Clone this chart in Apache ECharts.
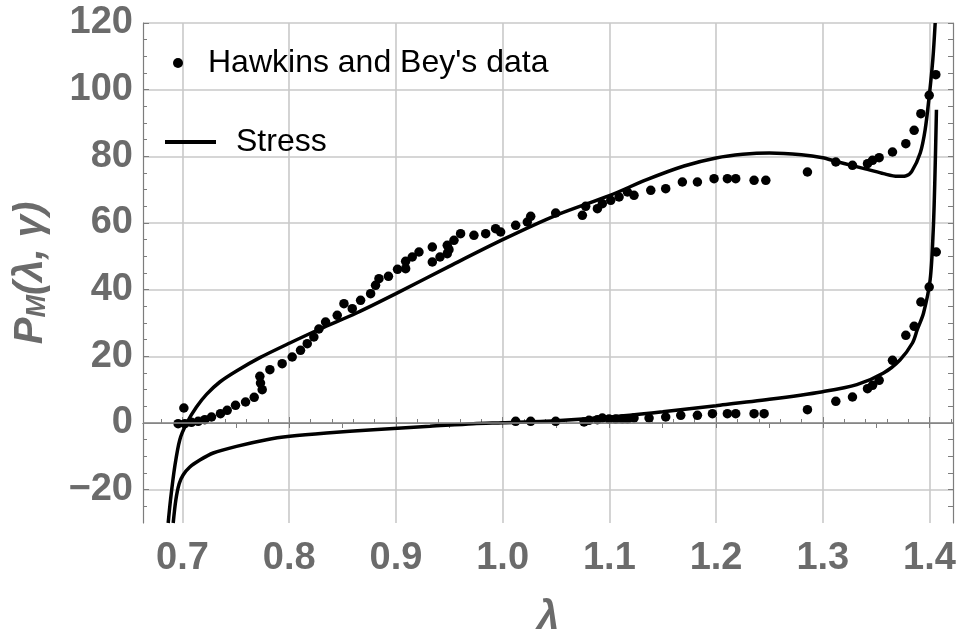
<!DOCTYPE html>
<html>
<head>
<meta charset="utf-8">
<script src="https://cdn.jsdelivr.net/npm/echarts@6/dist/echarts.min.js"></script>
<style>
  html, body { margin: 0; padding: 0; background: #fff; }
  #chart { width: 961px; height: 637px; }
</style>
</head>
<body>
<div id="chart"></div>
<script>
// Hawkins and Bey measurements, loading branch [lambda, P]
const loadingPoints = [
  [0.6959,-0.2],[0.7022,-0.2],[0.7013,4.5],[0.7084,0.2],[0.7147,0.5],[0.7209,1.0],[0.7272,1.8],
  [0.7356,2.8],[0.7419,3.8],[0.7497,5.3],[0.7591,6.3],[0.7672,7.7],[0.7747,10],[0.7731,12],
  [0.7725,14],[0.7819,16],[0.7934,17.8],[0.8028,19.8],[0.8106,21.8],[0.8169,23.8],[0.8231,25.8],
  [0.8278,28.2],[0.8341,30.3],[0.8450,32.3],[0.8513,35.8],[0.8591,34.3],[0.8669,36.8],[0.8763,38.8],
  [0.8809,41.3],[0.8841,43.3],[0.8930,44],[0.9015,46.1],[0.9091,46.3],[0.9091,48.5],[0.9153,49.8],
  [0.9216,51.3],[0.9341,52.8],[0.9341,48.3],[0.9413,49.8],[0.9481,50.8],[0.9497,52],[0.9481,53.3],
  [0.9544,54.8],[0.9606,56.8],[0.9731,56.3],[0.9841,56.8],[0.9934,58.3],[0.9981,57.3],[1.0122,59.3],
  [1.0231,60.3],[1.0263,62],[1.0497,63],[1.0747,62.3],[1.0778,65],[1.0888,64.3],[1.0934,65.8],
  [1.1013,66.8],[1.1091,67.8],[1.1169,69.3],[1.1231,68.3],[1.1388,69.8],[1.1528,70.3],[1.1684,72.3],
  [1.1825,72.3],[1.1981,73.3],[1.2106,73.3],[1.2184,73.3],[1.2356,72.8],[1.2466,72.8],[1.2856,75.3],
  [1.3122,78.3],[1.3278,77.3],[1.3419,77.8],[1.3466,78.8],[1.3528,79.6],[1.3653,81.3],[1.3778,83.8],
  [1.3856,87.8],[1.3919,92.8],[1.3997,98.3],[1.4059,104.5]
];

// Hawkins and Bey measurements, unloading branch [lambda, P]
const unloadingPoints = [
  [1.0122,0.5],[1.0263,0.5],[1.0497,0.5],[1.0763,0.3],[1.0809,0.8],[1.0888,1.0],[1.0934,1.5],
  [1.0997,1.2],[1.1059,1.2],[1.1122,1.2],[1.1169,1.2],[1.1231,1.5],[1.1372,1.5],[1.1528,1.8],
  [1.1669,2.3],[1.1825,2.3],[1.1966,2.8],[1.2106,2.8],[1.2184,2.8],[1.2356,2.8],[1.2450,2.8],
  [1.2856,4],[1.3122,6.5],[1.3278,7.8],[1.3419,10.3],[1.3466,11.3],[1.3528,12.8],[1.3653,18.8],
  [1.3778,26.3],[1.3856,29],[1.3919,36.3],[1.3997,40.8],[1.4063,51.3]
];

// Model stress, loading curve [lambda, P]
const stressLoading = [
  [0.6866,-30],[0.6888,-23],[0.6928,-13],[0.6975,-5],[0.7040,0],[0.7131,4.8],[0.7225,8.6],
  [0.7350,12.3],[0.7506,15.6],[0.7725,19.6],[0.8006,24],[0.8288,28.2],[0.8631,33],[0.9000,38.8],
  [0.9500,47],[1.0000,55],[1.0500,62.3],[1.1000,68.2],[1.1350,73],[1.1700,77.1],[1.2000,79.5],
  [1.2250,80.6],[1.2500,81],[1.2800,80.5],[1.3000,79.6],[1.3122,78.5],[1.3278,77.2],[1.3419,76.1],
  [1.3569,74.8],[1.3700,74],[1.3775,74.1],[1.3834,75.5],[1.3913,81],[1.3959,88],[1.3997,98],
  [1.4031,109],[1.4053,120]
];

// Model stress, unloading curve [lambda, P]
const stressUnloading = [
  [0.6913,-30],[0.6938,-23],[0.6969,-18.2],[0.7006,-15.6],[0.7069,-13.2],[0.7163,-11.1],
  [0.7288,-9],[0.7506,-7],[0.7788,-5],[0.8006,-4],[0.8350,-3],[0.8788,-2],[0.9319,-1],
  [0.9725,-0.2],[1.0000,0.1],[1.0500,0.7],[1.1000,1.8],[1.1500,3.4],[1.2000,5.2],[1.2500,7.1],
  [1.3000,9.4],[1.3319,11.5],[1.3569,15],[1.3725,19],[1.3840,24],[1.3885,28],[1.3944,33],
  [1.4006,43],[1.4035,58],[1.4050,73],[1.4065,94]
];

// Tick labels
const xTickLabels = [0.7, 0.8, 0.9, 1.0, 1.1, 1.2, 1.3, 1.4];
const yTickLabels = [-20, 0, 20, 40, 60, 80, 100, 120];

const X_MIN = 0.663, X_MAX = 1.422, Y_MIN = -30, Y_MAX = 120;

function steps(from, to, step) {
  const out = [];
  for (let v = from; v <= to + 1e-9; v += step) out.push(Math.round(v * 1000) / 1000);
  return out;
}
const xMinorTicks = steps(0.68, 1.42, 0.02);
const xTopTicks = steps(0.7, 1.4, 0.05);
const yMinorTicks = steps(-25, 120, 5);

const FONT = "'Liberation Sans', Arial, sans-serif";
const GRAY = '#6b6b6b';
const FRAME = '#7d7d7d';

const tickLabelStyle = { fontSize: 38, fontWeight: 'bold', color: GRAY, fontFamily: FONT };

function hiddenAxis(extra) {
  return Object.assign({
    type: 'value', gridIndex: 0,
    axisLine: { show: false },
    axisLabel: { show: false },
    splitLine: { show: false }
  }, extra);
}

const curveStyle = {
  type: 'line', xAxisIndex: 0, yAxisIndex: 0,
  symbol: 'none', showSymbol: false, smooth: 0.3, clip: true, z: 3,
  lineStyle: { color: '#000', width: 3.5 }, itemStyle: { color: '#000' }
};

const chart = echarts.init(document.getElementById('chart'), null, { renderer: 'canvas' });

chart.setOption({
  backgroundColor: '#ffffff',
  animation: false,
  grid: { left: 143, right: 8, top: 23, bottom: 114, containLabel: false, outerBoundsMode: 'none' },
  legend: [
    {
      left: 173, top: 47, padding: 0, orient: 'vertical',
      itemWidth: 10, itemHeight: 10,
      data: [{ name: "Hawkins and Bey's data", icon: 'circle' }],
      itemStyle: { opacity: 1 },
      textStyle: { fontSize: 32, color: '#000', fontFamily: FONT, padding: [0, 0, 0, 20] }
    },
    {
      left: 165, top: 126, padding: 0, orient: 'vertical',
      itemWidth: 51, itemHeight: 4,
      data: [{ name: 'Stress', icon: 'rect' }],
      itemStyle: { color: '#000', opacity: 1 },
      textStyle: { fontSize: 32, color: '#000', fontFamily: FONT, padding: [0, 0, 0, 15] }
    }
  ],
  xAxis: [
    {
      type: 'value', min: X_MIN, max: X_MAX, position: 'bottom',
      name: 'λ', nameLocation: 'middle', nameGap: 75,
      nameTextStyle: { fontSize: 40, fontWeight: 'bold', fontStyle: 'italic', color: GRAY, fontFamily: FONT },
      axisLine: { show: true, lineStyle: { color: FRAME, width: 1.2 } },
      axisTick: { show: true, inside: true, length: 6, customValues: xTickLabels, lineStyle: { color: FRAME } },
      axisLabel: {
        show: true, margin: 17, customValues: xTickLabels,
        formatter: v => v.toFixed(1), ...tickLabelStyle
      },
      splitLine: { show: true, lineStyle: { color: '#c9c9c9', width: 1.6 } }
    },
    hiddenAxis({
      min: X_MIN, max: X_MAX, position: 'bottom',
      axisTick: { show: true, inside: true, length: 4, customValues: xMinorTicks, lineStyle: { color: FRAME } }
    }),
    {
      type: 'value', min: X_MIN, max: X_MAX, position: 'top',
      axisLine: { show: true, lineStyle: { color: FRAME, width: 1.2 } },
      axisTick: { show: true, inside: true, length: 5, customValues: xTopTicks, lineStyle: { color: FRAME } },
      axisLabel: { show: false },
      splitLine: { show: false }
    }
  ],
  yAxis: [
    {
      type: 'value', min: Y_MIN, max: Y_MAX, position: 'left',
      name: '{p|P}{m|M}{p|(λ, γ)}', nameLocation: 'middle', nameGap: 92,
      nameTextStyle: {
        rich: {
          p: { fontSize: 40, fontWeight: 'bold', fontStyle: 'italic', color: GRAY, fontFamily: FONT },
          m: { fontSize: 27, fontWeight: 'bold', fontStyle: 'italic', color: GRAY, fontFamily: FONT,
               verticalAlign: 'bottom', padding: [14, 0, 0, 0] }
        }
      },
      axisLine: { show: true, lineStyle: { color: FRAME, width: 1.2 } },
      axisTick: { show: true, inside: true, length: 6, customValues: yTickLabels, lineStyle: { color: FRAME } },
      axisLabel: {
        show: true, margin: 10, customValues: yTickLabels,
        formatter: v => (v < 0 ? '\u2212' + Math.abs(v) : String(v)), ...tickLabelStyle
      },
      splitLine: { show: true, lineStyle: { color: '#c9c9c9', width: 1.6 } }
    },
    hiddenAxis({
      min: Y_MIN, max: Y_MAX, position: 'left',
      axisTick: { show: true, inside: true, length: 4, customValues: yMinorTicks, lineStyle: { color: FRAME } }
    }),
    {
      type: 'value', min: Y_MIN, max: Y_MAX, position: 'right',
      axisLine: { show: true, lineStyle: { color: FRAME, width: 1.2 } },
      axisTick: { show: true, inside: true, length: 5, customValues: yMinorTicks, lineStyle: { color: FRAME } },
      axisLabel: { show: false },
      splitLine: { show: false }
    }
  ],
  series: [
    {
      // zero reference line
      type: 'line', data: [], xAxisIndex: 0, yAxisIndex: 0, z: 1, silent: true,
      markLine: {
        silent: true, symbol: 'none', label: { show: false },
        lineStyle: { color: '#8a8a8a', width: 1.5, type: 'solid' },
        data: [{ yAxis: 0 }]
      }
    },
    Object.assign({ name: 'Stress', data: stressLoading }, curveStyle),
    Object.assign({ name: 'Stress', data: stressUnloading }, curveStyle),
    {
      name: "Hawkins and Bey's data", type: 'scatter', data: loadingPoints, xAxisIndex: 0, yAxisIndex: 0,
      symbol: 'circle', symbolSize: 9.5, z: 4, itemStyle: { color: '#000', opacity: 1 }
    },
    {
      name: "Hawkins and Bey's data", type: 'scatter', data: unloadingPoints, xAxisIndex: 0, yAxisIndex: 0,
      symbol: 'circle', symbolSize: 9.5, z: 4, itemStyle: { color: '#000', opacity: 1 }
    }
  ]
});
</script>
</body>
</html>
